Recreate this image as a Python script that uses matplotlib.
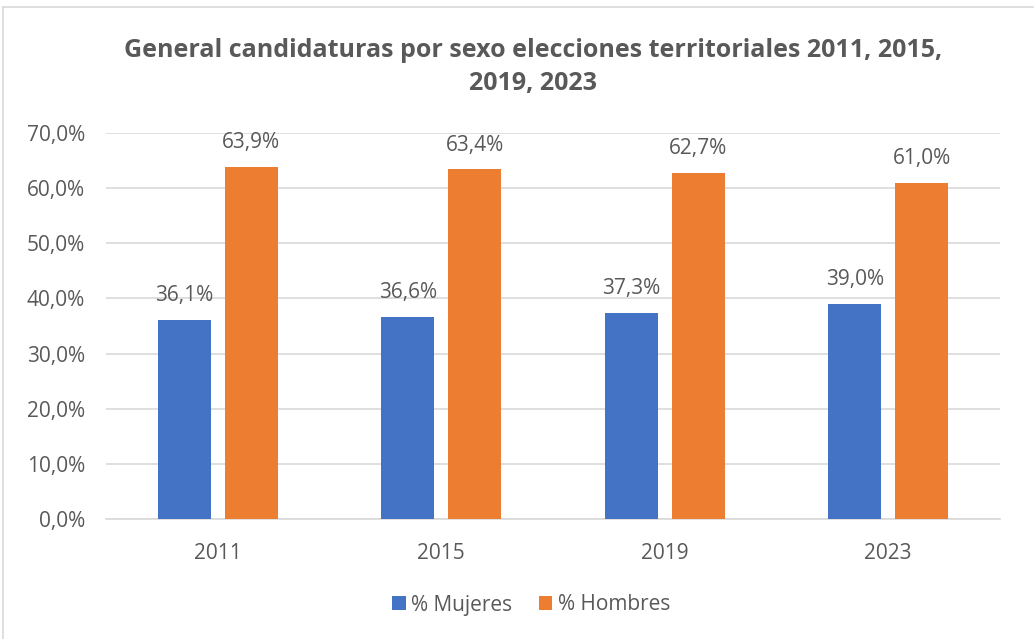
import numpy as np
import matplotlib.pyplot as plt

years = ["2011", "2015", "2019", "2023"]
mujeres = [36.1, 36.6, 37.3, 39.0]
hombres = [63.9, 63.4, 62.7, 61.0]
yticks = [0, 10, 20, 30, 40, 50, 60, 70]

txt = "#595959"
plt.rcParams['font.family'] = ['Open Sans', 'DejaVu Sans']

fig = plt.figure(figsize=(10.34, 6.39), dpi=100)
ax = fig.add_axes([106 / 1034, 1 - 519 / 639, 894 / 1034, 386 / 639])

x = np.arange(len(years))
w = 0.238
b1 = ax.bar(x - 0.15, mujeres, w, color="#4472C4", label="% Mujeres", zorder=3)
b2 = ax.bar(x + 0.15, hombres, w, color="#ED7D31", label="% Hombres", zorder=3)

for bars, vals in ((b1, mujeres), (b2, hombres)):
    for r, v in zip(bars, vals):
        ax.annotate(f"{v:.1f}%".replace(".", ","), (r.get_x() + r.get_width() / 2, v),
                    xytext=(0, 10), textcoords="offset points", ha="center", va="bottom",
                    fontsize=15, color=txt)

ax.set_xlim(-0.5, 3.5)
ax.set_ylim(0, 70)
ax.set_yticks(yticks)
ax.set_yticklabels([f"{t:.1f}%".replace(".", ",") for t in yticks], fontsize=15, color=txt)
ax.set_xticks(x)
ax.set_xticklabels(years, fontsize=15, color=txt)
ax.tick_params(length=0)
ax.tick_params(axis="x", pad=17)
ax.tick_params(axis="y", pad=15)
ax.grid(axis="y", color="#D9D9D9", linewidth=1.2, zorder=0)
for s in ["top", "right", "left"]:
    ax.spines[s].set_visible(False)
ax.spines["bottom"].set_color("#D9D9D9")
ax.spines["bottom"].set_linewidth(1.2)

fig.text(533 / 1034, 1 - 67 / 639,
         "General candidaturas por sexo elecciones territoriales 2011, 2015,\n2019, 2023",
         ha="center", va="center", fontsize=18, fontweight="bold", color=txt, linespacing=1.4)

fig.legend(loc="center", bbox_to_anchor=(531 / 1034, 1 - 605 / 639), ncol=2, frameon=False,
           fontsize=15, labelcolor=txt, handlelength=0.65, handleheight=0.65,
           handletextpad=0.25, columnspacing=1.3)

# chart frame
fig.add_artist(plt.Line2D([3 / 1034, 3 / 1034], [0, 1 - 7 / 639], color="#D9D9D9", lw=1.2))
fig.add_artist(plt.Line2D([3 / 1034, 1], [1 - 7 / 639, 1 - 7 / 639], color="#D9D9D9", lw=1.2))

fig.savefig("out.png", dpi=100)
